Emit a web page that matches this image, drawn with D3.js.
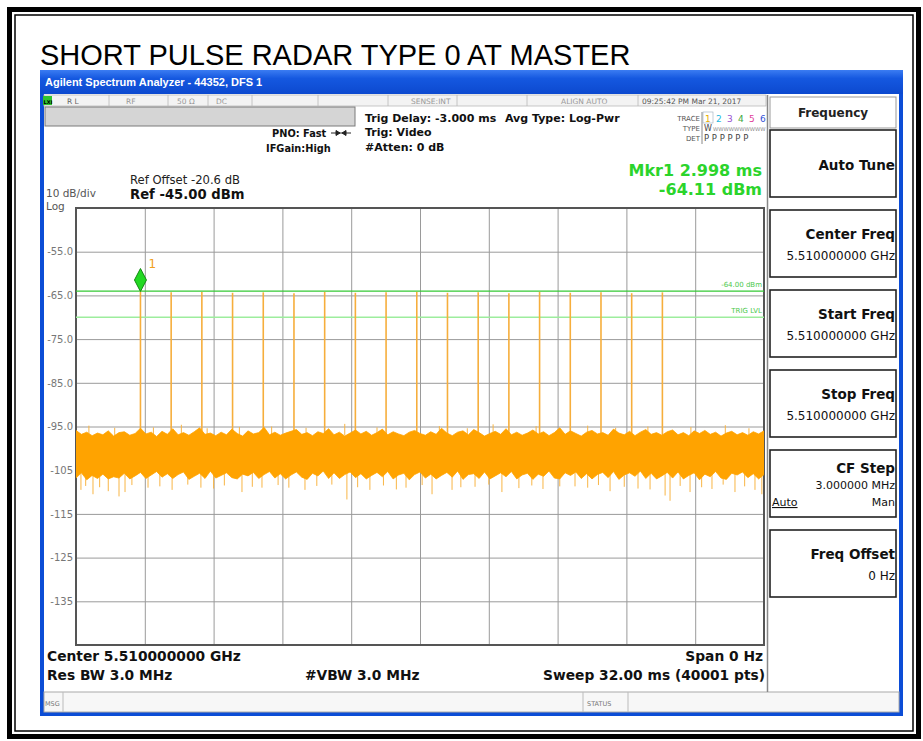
<!DOCTYPE html>
<meta charset="utf-8">
<html>
<head>
<title>Short Pulse Radar Type 0 at Master</title>
<style>
  body { margin: 0; background: #fff; }
</style>
</head>
<body>
<div id="chart"></div>

<script src="https://d3js.org/d3.v7.min.js"></script>
<script>

// ---- values ----
var sweepMs = 32;            // span 0 Hz, sweep 32 ms
var refLevel = -45;          // top of the screen, dBm
var dbPerDiv = 10;

// 18 pulses of radar type 0 (time in ms, peak in dBm)
var pulseMs = [2.998, 4.426, 5.854, 7.282, 8.710, 10.138, 11.566, 12.994, 14.422,
               15.850, 17.278, 18.706, 20.134, 21.562, 22.990, 24.418, 25.846, 27.274];
var pulseDbm = [-64.11, -64.3, -64.2, -64.4, -64.3, -64.5, -64.2, -64.4, -64.3,
                -64.2, -64.4, -64.3, -64.5, -64.2, -64.4, -64.3, -64.5, -64.3];

// noise floor envelope, one top / bottom value every 0.25 ms
var noiseStepMs = 0.25;
var noiseTop = [
  -95.9, -96.8, -96.3, -97.1, -96.5, -96.9, -96.0, -97.2, -96.4, -96.2, -97.0, -96.6, -95.4, -96.7, -96.3, -97.3,
  -96.1, -96.8, -95.5, -96.9, -96.4, -97.0, -96.2, -95.3, -96.8, -96.5, -97.1, -96.3, -96.9, -95.6, -96.6, -97.2,
  -96.0, -96.7, -96.4, -95.2, -96.9, -96.3, -97.0, -96.5, -96.1, -95.7, -96.8, -96.4, -97.1, -96.2, -96.6, -95.5,
  -96.9, -96.3, -97.2, -96.5, -95.8, -96.7, -96.1, -97.0, -96.4, -95.6, -96.9, -96.2, -96.7, -97.1, -96.3, -95.9,
  -96.6, -97.0, -96.2, -96.8, -95.4, -96.5, -97.1, -96.3, -96.0, -96.9, -95.7, -96.4, -97.2, -96.6, -96.1, -96.8,
  -95.5, -96.9, -96.3, -97.0, -96.5, -95.8, -96.7, -96.2, -97.1, -96.4, -95.3, -96.8, -96.0, -96.6, -97.2, -96.3,
  -95.9, -96.7, -96.4, -97.0, -95.6, -96.5, -96.9, -96.1, -97.1, -96.3, -95.7, -96.8, -96.4, -97.0, -96.2, -95.8,
  -96.9, -96.4, -97.1, -96.0, -96.6, -95.9, -96.8, -96.3, -97.2, -96.5, -96.1, -96.9, -96.4, -97.0, -96.2, -96.7,
  -96.0];
var noiseBottom = [
  -106.8, -105.6, -107.2, -106.2, -106.9, -105.9, -107.0, -106.5, -106.8, -105.7, -107.0, -106.3, -105.5, -106.9, -106.1, -105.3,
  -106.6, -105.8, -106.9, -106.0, -105.4, -107.1, -106.4, -105.7, -106.9, -105.2, -106.8, -106.2, -105.6, -106.7, -107.0, -105.9,
  -106.3, -105.5, -106.9, -106.0, -105.3, -106.8, -105.8, -107.0, -106.1, -105.4, -106.6, -107.1, -105.7, -106.3, -105.2, -106.9,
  -105.6, -106.9, -106.0, -105.4, -106.7, -105.8, -107.0, -106.2, -105.5, -106.5, -105.3, -107.0, -106.1, -105.7, -107.2, -106.0,
  -105.4, -106.8, -105.9, -107.0, -106.2, -105.5, -106.6, -105.2, -107.1, -106.0, -105.8, -106.9, -105.4, -107.0, -106.3, -105.6,
  -106.5, -105.3, -107.0, -106.1, -105.7, -107.1, -105.9, -106.4, -105.2, -106.8, -107.0, -105.6, -106.2, -105.4, -106.9, -105.8,
  -107.0, -106.0, -105.5, -106.7, -105.3, -107.1, -106.1, -105.6, -106.4, -105.2, -106.9, -105.7, -107.0, -106.3, -105.5, -106.8,
  -105.4, -107.0, -106.2, -105.6, -107.2, -105.9, -106.5, -105.3, -106.8, -107.1, -105.7, -106.1, -105.4, -106.7, -105.8, -107.0,
  -106.0];

// single samples that stick out of the noise band (ms, dBm)
var noiseDips = [
  [0.23, -109.5], [0.45, -108.6], [0.79, -110.5], [1.10, -108.9], [1.50, -109.8], [2.00, -111.0], [2.28, -110.0],
  [2.60, -108.4], [3.35, -109.0], [3.90, -108.7], [4.47, -109.5], [5.20, -108.3], [5.81, -109.0], [6.40, -109.2],
  [6.90, -108.5], [7.72, -110.0], [8.20, -108.8], [8.65, -109.0], [9.40, -108.4], [9.90, -109.0], [10.65, -109.5],
  [11.20, -108.6], [11.90, -108.3], [12.60, -111.7], [13.10, -108.9], [13.67, -109.5], [14.30, -108.5], [14.90, -109.4],
  [15.35, -109.0], [16.10, -108.4], [16.56, -110.5], [17.49, -109.5], [17.90, -108.9], [18.56, -108.8], [19.20, -108.3],
  [19.81, -110.0], [20.60, -109.1], [21.20, -108.5], [21.72, -109.3], [22.50, -108.7], [23.21, -108.7], [23.80, -109.0],
  [24.30, -108.4], [24.84, -109.8], [25.50, -108.8], [26.14, -109.2], [26.70, -109.4], [27.40, -110.8], [27.63, -112.0],
  [28.10, -108.6], [28.56, -110.0], [29.10, -108.9], [29.58, -109.3], [30.10, -108.3], [30.65, -110.0], [31.10, -108.7],
  [31.58, -109.5], [31.90, -110.5]];
var noisePeaks = [
  [0.60, -94.8], [1.80, -95.3], [3.60, -95.2], [4.90, -94.6], [6.10, -95.4], [7.60, -95.1], [9.10, -95.0],
  [10.70, -95.3], [12.50, -94.4], [14.00, -95.2], [16.90, -94.9], [18.20, -95.4], [19.40, -94.5], [21.40, -94.9],
  [23.80, -94.8], [25.10, -95.3], [26.60, -95.0], [28.60, -95.1], [30.20, -94.7], [31.30, -95.4]];

var displayLineDbm = -64.00;
var trigLevelDbm = -70.0;
var markerMs = 2.998, markerDbm = -64.11;

var yTicks = [-55, -65, -75, -85, -95, -105, -115, -125, -135];
var yTickLabels = ["-55.0", "-65.0", "-75.0", "-85.0", "-95.0", "-105", "-115", "-125", "-135"];

var softKeys = [
  {label: "Auto Tune"},
  {label: "Center Freq", value: "5.510000000 GHz"},
  {label: "Start Freq", value: "5.510000000 GHz"},
  {label: "Stop Freq", value: "5.510000000 GHz"},
  {label: "CF Step", value: "3.000000 MHz", autoMan: true},
  {label: "Freq Offset", value: "0 Hz"}
];

// ---- drawing ----
var W = 923, H = 741;
var UI = "DejaVu Sans, sans-serif";
var plot = {left: 76, top: 208, right: 764, bottom: 645};

var svg = d3.select("#chart").append("svg")
    .attr("width", W)
    .attr("height", H)
    .style("display", "block");

svg.append("rect").attr("width", W).attr("height", H).attr("fill", "#fff");

// page frame, thick outside / thin inside
svg.append("rect")
    .attr("x", 9.5).attr("y", 9.5).attr("width", 909).attr("height", 727)
    .attr("fill", "none").attr("stroke", "#000").attr("stroke-width", 5);
svg.append("rect")
    .attr("x", 15).attr("y", 15).attr("width", 898).attr("height", 716)
    .attr("fill", "none").attr("stroke", "#000").attr("stroke-width", 1.5);

svg.append("text")
    .attr("x", 40).attr("y", 65)
    .style("font-family", "Liberation Sans, Arial, sans-serif")
    .style("font-size", "29px")
    .text("SHORT PULSE RADAR TYPE 0 AT MASTER");

// analyzer window
var defs = svg.append("defs");
var grad = defs.append("linearGradient").attr("id", "titlebar")
    .attr("x1", 0).attr("y1", 0).attr("x2", 0).attr("y2", 1);
grad.append("stop").attr("offset", "0%").attr("stop-color", "#3b7cf2");
grad.append("stop").attr("offset", "35%").attr("stop-color", "#1558e0");
grad.append("stop").attr("offset", "100%").attr("stop-color", "#0c49cf");

svg.append("rect")
    .attr("x", 40).attr("y", 70).attr("width", 863).attr("height", 646)
    .attr("fill", "#0c4dd6");
svg.append("rect")
    .attr("x", 40).attr("y", 70).attr("width", 863).attr("height", 24)
    .attr("fill", "url(#titlebar)");
svg.append("text")
    .attr("x", 45).attr("y", 86)
    .attr("fill", "#fff")
    .style("font-family", "Liberation Sans, Arial, sans-serif")
    .style("font-size", "11px")
    .style("font-weight", "bold")
    .text("Agilent Spectrum Analyzer - 44352, DFS 1");
svg.append("rect")
    .attr("x", 44).attr("y", 94).attr("width", 855).attr("height", 618)
    .attr("fill", "#fff");

// status row
svg.append("rect")
    .attr("x", 44).attr("y", 95).attr("width", 722).attr("height", 11)
    .attr("fill", "#f3f3f3").attr("stroke", "#b8b8b8").attr("stroke-width", 0.8);
var statusSeps = [109, 168, 208, 252, 318, 388, 457, 527, 638];
svg.append("g").selectAll("line").data(statusSeps).enter().append("line")
    .attr("x1", function(d) { return d; }).attr("x2", function(d) { return d; })
    .attr("y1", 95).attr("y2", 106)
    .attr("stroke", "#b8b8b8").attr("stroke-width", 0.8);
svg.append("rect").attr("x", 43).attr("y", 96).attr("width", 9).attr("height", 9).attr("fill", "#2fc42f");
svg.append("text").attr("x", 43.5).attr("y", 103.5).text("LXI")
    .style("font-family", UI).style("font-size", "5px").style("font-weight", "bold");
var statusTexts = [
  {x: 67, t: "R L", c: "#666"}, {x: 126, t: "RF", c: "#999"}, {x: 177, t: "50 Ω", c: "#999"},
  {x: 216, t: "DC", c: "#999"}, {x: 411, t: "SENSE:INT", c: "#999"}, {x: 561, t: "ALIGN AUTO", c: "#999"},
  {x: 642, t: "09:25:42 PM Mar 21, 2017", c: "#555"}
];
svg.append("g").selectAll("text").data(statusTexts).enter().append("text")
    .attr("x", function(d) { return d.x; }).attr("y", 104)
    .attr("fill", function(d) { return d.c; })
    .style("font-family", UI).style("font-size", "7.5px")
    .text(function(d) { return d.t; });

// grey entry bar
svg.append("rect")
    .attr("x", 45).attr("y", 107).attr("width", 310).attr("height", 19)
    .attr("fill", "#d5d5d5").attr("stroke", "#7a7a7a").attr("stroke-width", 1);

function label(x, y, txt, size, bold, anchor, color) {
  return svg.append("text")
      .attr("x", x).attr("y", y)
      .attr("fill", color || "#111")
      .style("font-family", UI)
      .style("font-size", size + "px")
      .style("font-weight", bold ? "bold" : "normal")
      .style("text-anchor", anchor || "start")
      .text(txt);
}

label(272, 137, "PNO: Fast", 9.8, true);
label(266, 152, "IFGain:High", 9.8, true);
svg.append("path")
    .attr("d", "M331,133H351 M336,130.5L340,133L336,135.5Z M346,130.5L342,133L346,135.5Z")
    .attr("stroke", "#222").attr("stroke-width", 1).attr("fill", "#222");
label(365, 122, "Trig Delay: -3.000 ms", 11, true);
label(365, 136, "Trig: Video", 11, true);
label(365, 151, "#Atten: 0 dB", 11, true);
label(505, 122, "Avg Type: Log-Pwr", 11, true);

// trace table
label(700, 121, "TRACE", 7, false, "end", "#555");
label(700, 131, "TYPE", 7, false, "end", "#555");
label(700, 141, "DET", 7, false, "end", "#555");
var traceColors = ["#e8b000", "#22b8e0", "#9a4fd0", "#3aa83a", "#e0409a", "#3050d8"];
svg.append("g").selectAll("text").data(traceColors).enter().append("text")
    .attr("x", function(d, i) { return 705 + i * 11; }).attr("y", 122)
    .attr("fill", function(d) { return d; })
    .style("font-family", UI).style("font-size", "9px")
    .text(function(d, i) { return i + 1; });
label(704, 131, "W", 8, false, "start", "#444");
label(713, 131, "WWWWWWWWWW", 5.3, false, "start", "#888");
label(704, 141, "P  P  P  P  P  P", 8.5, false, "start", "#444");
svg.append("line").attr("x1", 702).attr("x2", 702).attr("y1", 112).attr("y2", 144)
    .attr("stroke", "#888").attr("stroke-width", 1);
svg.append("rect").attr("x", 703).attr("y", 112).attr("width", 10).attr("height", 11)
    .attr("fill", "none").attr("stroke", "#9ab").attr("stroke-width", 0.6);

// marker readout and reference
label(762, 176, "Mkr1 2.998 ms", 16, true, "end", "#2bd42b");
label(762, 195, "-64.11 dBm", 16, true, "end", "#2bd42b");
label(130, 184, "Ref Offset -20.6 dB", 11.6, false, "start", "#222");
label(130, 199, "Ref -45.00 dBm", 13.2, true, "start", "#111");
label(46, 197, "10 dB/div", 10.5, false, "start", "#555");
label(46, 209.5, "Log", 10.5, false, "start", "#555");

// scales
var x = d3.scaleLinear().domain([0, sweepMs]).range([plot.left, plot.right]);
var y = d3.scaleLinear().domain([refLevel - 10 * dbPerDiv, refLevel]).range([plot.bottom, plot.top]);

var xGrid = d3.range(1, 10).map(function(i) { return i * sweepMs / 10; });

svg.append("g")
    .attr("transform", "translate(0," + plot.bottom + ")")
    .call(d3.axisBottom(x).tickValues(xGrid).tickSize(-(plot.bottom - plot.top)).tickFormat(""))
    .call(function(g) { g.select(".domain").remove(); })
    .selectAll("line").attr("stroke", "#9a9a9a");

var yAxis = svg.append("g")
    .attr("transform", "translate(" + plot.left + ",0)")
    .call(d3.axisLeft(y).tickValues(yTicks).tickSize(-(plot.right - plot.left))
      .tickFormat(function(d, i) { return yTickLabels[i]; }))
    .call(function(g) { g.select(".domain").remove(); });
yAxis.selectAll("line").attr("stroke", "#9a9a9a");
yAxis.selectAll("text")
    .attr("fill", "#777")
    .attr("x", -3)
    .style("font-family", UI)
    .style("font-size", "10px");

svg.append("rect")
    .attr("x", plot.left).attr("y", plot.top)
    .attr("width", plot.right - plot.left).attr("height", plot.bottom - plot.top)
    .attr("fill", "none").attr("stroke", "#555").attr("stroke-width", 2);

defs.append("clipPath").attr("id", "plotclip").append("rect")
    .attr("x", plot.left).attr("y", plot.top)
    .attr("width", plot.right - plot.left).attr("height", plot.bottom - plot.top);
var trace = svg.append("g").attr("clip-path", "url(#plotclip)");

// display line and trigger level
trace.append("line")
    .attr("x1", plot.left).attr("x2", plot.right)
    .attr("y1", y(displayLineDbm)).attr("y2", y(displayLineDbm))
    .attr("stroke", "#35c935").attr("stroke-width", 1.3);
trace.append("line")
    .attr("x1", plot.left).attr("x2", plot.right)
    .attr("y1", y(trigLevelDbm)).attr("y2", y(trigLevelDbm))
    .attr("stroke", "#9ded9d").attr("stroke-width", 1.3);
label(762, y(displayLineDbm) - 4, "-64.00 dBm", 7, false, "end", "#4cc94c");
label(762, y(trigLevelDbm) - 4, "TRIG LVL", 7, false, "end", "#4cc94c");

// pulses
trace.append("g").selectAll("line").data(pulseMs).enter().append("line")
    .attr("x1", function(d) { return x(d); }).attr("x2", function(d) { return x(d); })
    .attr("y1", function(d, i) { return y(pulseDbm[i]); })
    .attr("y2", y(-100))
    .attr("stroke", "#f6ae3c").attr("stroke-width", 1.6);

// noise floor: hairs first, then the dense band over them
trace.append("g").selectAll("line").data(noiseDips).enter().append("line")
    .attr("x1", function(d) { return x(d[0]); }).attr("x2", function(d) { return x(d[0]); })
    .attr("y1", y(-105)).attr("y2", function(d) { return y(d[1]); })
    .attr("stroke", "#f8b545").attr("stroke-width", 1);
trace.append("g").selectAll("line").data(noisePeaks).enter().append("line")
    .attr("x1", function(d) { return x(d[0]); }).attr("x2", function(d) { return x(d[0]); })
    .attr("y1", y(-97)).attr("y2", function(d) { return y(d[1]); })
    .attr("stroke", "#f8b545").attr("stroke-width", 1);

var noiseArea = d3.area()
    .x(function(d, i) { return x(i * noiseStepMs); })
    .y0(function(d, i) { return y(noiseBottom[i]); })
    .y1(function(d) { return y(d); });
trace.append("path")
    .datum(noiseTop)
    .attr("d", noiseArea)
    .attr("fill", "#ffa300")
    .attr("stroke", "#ffa300")
    .attr("stroke-width", 0.8);

// marker 1
var mx = x(markerMs), my = y(markerDbm);
svg.append("path")
    .attr("d", "M" + mx + "," + (my - 23) + "L" + (mx + 6) + "," + (my - 11.5) +
               "L" + mx + "," + my + "L" + (mx - 6) + "," + (my - 11.5) + "Z")
    .attr("fill", "#22d822").attr("stroke", "#138a13").attr("stroke-width", 1);
label(mx + 8, my - 24, "1", 12, false, "start", "#f0a020");

// bottom annotations
label(47, 661, "Center 5.510000000 GHz", 13.8, true);
label(47, 680, "Res BW 3.0 MHz", 13.8, true);
label(305, 680, "#VBW 3.0 MHz", 13.8, true);
label(763, 661, "Span 0 Hz", 13.8, true, "end");
label(765, 680, "Sweep  32.00 ms (40001 pts)", 13.8, true, "end");

// message row
svg.append("rect")
    .attr("x", 44).attr("y", 692).attr("width", 855).attr("height", 20)
    .attr("fill", "#f7f7f7").attr("stroke", "#aaa").attr("stroke-width", 1);
[63, 583, 628].forEach(function(sx) {
  svg.append("line").attr("x1", sx).attr("x2", sx).attr("y1", 692).attr("y2", 712)
      .attr("stroke", "#bbb").attr("stroke-width", 1);
});
label(45, 706, "MSG", 6.5, false, "start", "#777");
label(587, 706, "STATUS", 6.5, false, "start", "#777");

// soft key panel
svg.append("line").attr("x1", 767.5).attr("x2", 767.5).attr("y1", 95).attr("y2", 692)
    .attr("stroke", "#888").attr("stroke-width", 1.5);
svg.append("rect")
    .attr("x", 770).attr("y", 97).attr("width", 126).attr("height", 31)
    .attr("fill", "#fff").attr("stroke", "#999").attr("stroke-width", 1);
label(833, 117, "Frequency", 12, true, "middle", "#222");

var keys = svg.append("g").selectAll("g").data(softKeys).enter().append("g")
    .attr("transform", function(d, i) { return "translate(770," + (130 + i * 80) + ")"; });
keys.append("rect")
    .attr("width", 126).attr("height", 67)
    .attr("fill", "#fff").attr("stroke", "#222").attr("stroke-width", 1.6);
keys.append("text")
    .attr("x", 125)
    .attr("y", function(d) { return d.autoMan ? 23 : (d.value ? 29 : 40); })
    .style("text-anchor", "end")
    .style("font-family", UI).style("font-size", "13.5px").style("font-weight", "bold")
    .attr("fill", "#111")
    .text(function(d) { return d.label; });
keys.filter(function(d) { return d.value; }).append("text")
    .attr("x", 125)
    .attr("y", function(d) { return d.autoMan ? 39 : 50; })
    .style("text-anchor", "end")
    .style("font-family", UI)
    .style("font-size", function(d) { return d.autoMan ? "11px" : "12px"; })
    .attr("fill", "#111")
    .text(function(d) { return d.value; });
var am = keys.filter(function(d) { return d.autoMan; });
am.append("text").attr("x", 2).attr("y", 56)
    .style("font-family", UI).style("font-size", "11px").style("text-decoration", "underline")
    .attr("fill", "#111").text("Auto");
am.append("text").attr("x", 125).attr("y", 56).style("text-anchor", "end")
    .style("font-family", UI).style("font-size", "11px")
    .attr("fill", "#111").text("Man");

</script>
</body>
</html>
